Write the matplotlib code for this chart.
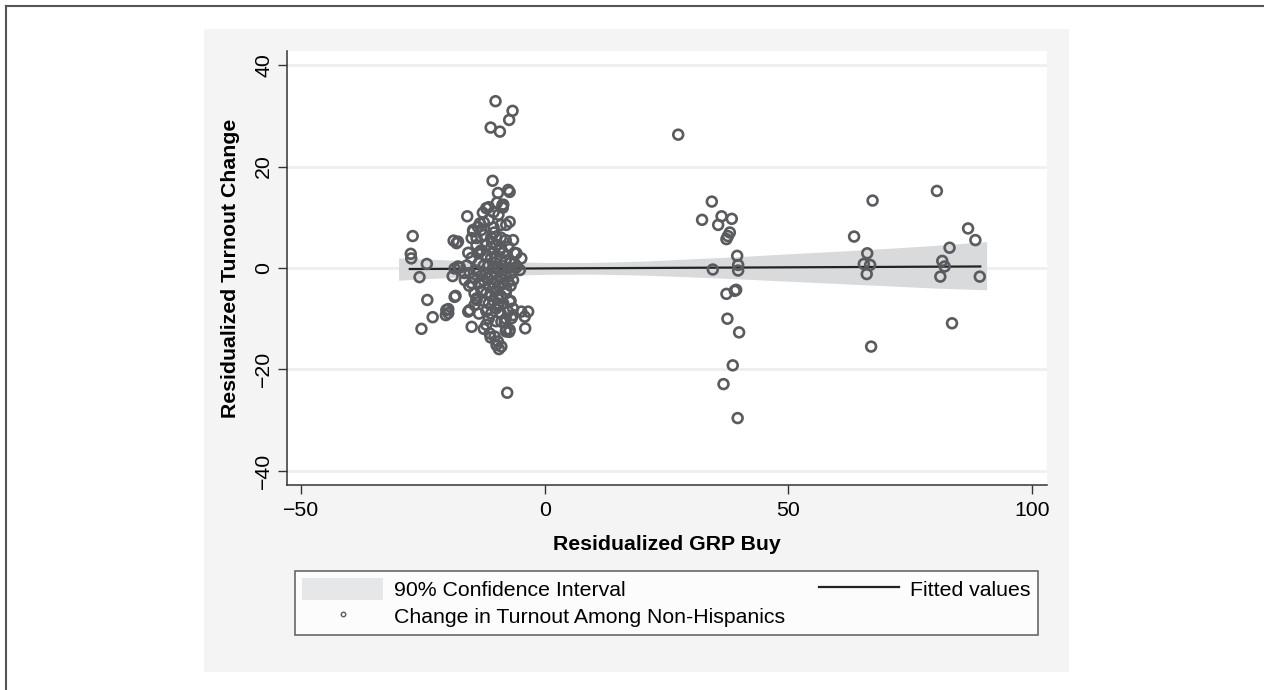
import numpy as np
import matplotlib.pyplot as plt
import matplotlib.patches as mpatches
from matplotlib.lines import Line2D

plt.rcParams['font.family'] = ['Liberation Sans', 'DejaVu Sans']

# scatter: residualized GRP buy vs residualized turnout change
grp_left = [-10.1, -6.6, -7.3, -11.1, -9.2, -10.7, -9.6, -7.5, -7.2, -8.7, -8.6, -9.8,
            -12.0, -12.7, -15.9, -7.2, -7.9, -13.3, -13.7, -14.7, -27.1, -18.7, -17.8,
            -27.5, -15.7, -13.3, -7.5, -6.2, -4.8, -14.7, -15.0, -14.0, -13.7,
            -18.1, -18.5, -17.8, -16.4, -18.5, -20.2, -19.8, -15.0, -15.7,
            -5.8, -6.2, -5.1, -6.8, -7.5, -7.9, -7.2, -7.5, -4.8, -3.4, -4.1, -4.0,
            -7.2, -8.2, -10.3, -9.6, -8.9, -11.3, -12.0,
            -24.2, -25.7, -24.1, -23.0, -25.3, -19.8, -20.3, -18.3, -18.9, -17.4,
            -7.7, -9.4, -9.9, -11.1, -7.9, -7.3, -6.8, -6.5, -8.9,
            -5.7, -6.5, -27.4, -15.4, -15.0, -14.4, -14.0, -14.4, -15.4]
turnout_left = [32.9, 31.0, 29.2, 27.7, 26.9, 17.2, 14.8, 15.4, 15.0, 12.4, 11.9, 12.9,
                11.8, 10.9, 10.2, 9.1, 8.5, 8.8, 8.1, 7.2, 6.3, 5.4, 5.2,
                2.8, 3.0, 3.2, 4.2, 3.0, 1.9, 7.5, 5.9, 5.9, 2.9,
                4.9, -0.1, 0.3, -2.4, -5.7, -8.3, -8.9, -11.6, -8.6,
                2.9, 0.9, -0.4, -1.0, -2.7, -4.3, -6.6, -8.6, -8.6, -8.6, -9.6, -11.9,
                -12.2, -10.6, -13.5, -14.5, -15.5, -12.9, -11.2,
                0.8, -1.8, -6.3, -9.7, -12.0, -8.1, -9.3, -5.5, -1.6, 0.1,
                -24.6, -16.0, -15.2, -13.7, -12.2, -12.6, -9.9, -9.3, -10.6,
                0.3, -2.4, 1.9, -1.0, -3.0, -5.0, -6.3, -7.3, -8.3]

# dense core of the left cluster (estimated, heavily overlapping)
grp_core = [-11.5, -10.5, -9.5, -12.5, -11.0, -10.0, -9.0, -8.0, -12.0, -11.0, -10.0, -9.0,
            -8.5, -13.0, -12.0, -11.0, -10.0, -9.0, -8.0, -7.0, -13.5, -12.5, -11.5, -10.5,
            -9.5, -8.5, -7.5, -14.0, -13.0, -12.0, -11.0, -10.0, -9.0, -8.0, -14.5, -13.5,
            -12.5, -11.5, -10.5, -9.5, -8.5, -7.0, -13.0, -12.0, -11.0, -10.0, -9.0, -8.0,
            -12.5, -11.5, -10.5, -9.5, -8.5, -12.0, -11.0, -10.0, -9.0, -11.5, -10.0, -8.0,
            -13.0, -10.5, -9.0, -11.5, -8.5, -12.5, -14.0, -15.0, -16.0, -16.5, -15.5, -14.0,
            -13.5, -12.5, -10.5, -9.5, -10.8, -8.0, -6.5, -6.0, -7.0, -6.5,
            -10.2, -9.8, -10.6, -9.2, -11.8, -8.8, -10.4, -9.6]
turnout_core = [9.5, 8.0, 10.5, 6.5, 6.0, 6.2, 6.0, 5.5, 4.5, 4.0, 4.5, 4.0,
                3.0, 3.5, 2.5, 2.0, 2.0, 1.5, 1.5, 1.0, 1.0, 0.5, 0.5, 0.0,
                0.0, -0.5, 0.0, -0.5, -1.5, -1.0, -1.5, -1.0, -2.0, -1.5, -2.0, -3.0,
                -2.5, -3.5, -3.0, -3.5, -3.0, -3.5, -4.5, -5.0, -5.5, -4.5, -5.5, -5.0,
                -6.5, -7.0, -6.5, -7.5, -7.0, -8.5, -9.0, -8.0, -9.0, -10.0, -10.5, -10.0,
                7.5, 11.0, 8.5, 12.0, 12.5, 9.0, 4.5, 2.0, 0.5, -1.0, -3.5, -6.0,
                -9.0, -12.0, 3.0, -6.0, 5.0, -12.5, 5.5, 0.0, -6.5, -8.0,
                1.0, -2.5, -4.0, 3.5, -2.0, 0.5, 7.0, -7.0]

grp_right = [27.4, 34.3, 32.3, 36.3, 35.6, 38.4, 38.0, 37.6, 37.3, 39.5, 34.5, 39.7, 39.7,
             37.3, 39.0, 39.3, 37.5, 39.9, 38.6, 36.7, 39.6,
             67.3, 63.5, 66.2, 65.5, 66.8, 66.1, 67.0,
             80.5, 86.9, 88.4, 83.1, 81.6, 82.1, 81.2, 89.3, 83.6]
turnout_right = [26.3, 13.1, 9.5, 10.2, 8.5, 9.7, 7.0, 6.3, 5.7, 2.4, -0.3, 0.6, -0.5,
                 -5.1, -4.5, -4.3, -10.0, -12.7, -19.2, -22.9, -29.6,
                 13.3, 6.2, 2.9, 0.8, 0.6, -1.2, -15.5,
                 15.2, 7.8, 5.5, 4.0, 1.4, 0.3, -1.7, -1.7, -10.9]

# fitted line and 90% CI band
fit_x = [-27.7, 89.4]
fit_y = [-0.2, 0.3]
ci_x = [-30.0, -20.0, -10.0, 0.0, 10.0, 20.0, 30.0, 40.0, 50.0, 60.0, 70.0, 80.0, 90.7]
ci_lo = [-2.4, -1.9, -1.5, -1.25, -1.2, -1.4, -1.75, -2.15, -2.6, -3.05, -3.5, -3.95, -4.3]
ci_hi = [2.0, 1.6, 1.25, 1.1, 1.1, 1.35, 1.8, 2.25, 2.8, 3.3, 3.85, 4.45, 5.2]

xticks = [-50, 0, 50, 100]
yticks = [-40, -20, 0, 20, 40]

grp = grp_left + grp_core + grp_right
turnout = turnout_left + turnout_core + turnout_right

fs = 15.3
fig = plt.figure(figsize=(12.64, 6.9), dpi=100)

# outer frame (top + left) and grey graph region
fig.add_artist(Line2D([6/1264, 6/1264], [0, 1 - 6/690], color='#555555', lw=1.5))
fig.add_artist(Line2D([6/1264, 1], [1 - 6/690, 1 - 6/690], color='#555555', lw=1.5))
fig.add_artist(mpatches.Rectangle((204/1264, 1 - 672/690), 865/1264, 643/690,
                                  color='#f4f4f4', lw=0, zorder=0))

ax = fig.add_axes([287/1264, 1 - 485/690, 760/1264, 434/690])
ax.set_facecolor('white')

ax.fill_between(ci_x, ci_lo, ci_hi, color='#d9dadc', lw=0, zorder=1)
ax.plot(fit_x, fit_y, color='#222222', lw=1.6, zorder=2)
ax.scatter(grp, turnout, s=50, facecolors='none', edgecolors='#5a5b5e',
           linewidths=1.9, zorder=3)

ax.set_xlim(-52.9, 103.1)
ax.set_ylim(-42.8, 42.8)
ax.set_xticks(xticks)
ax.set_yticks(yticks)
ax.grid(axis='y', color='#efefef', lw=2.0, zorder=0)
ax.set_axisbelow(True)
for s in ['top', 'right']:
    ax.spines[s].set_visible(False)
for s in ['left', 'bottom']:
    ax.spines[s].set_color('#333333')
    ax.spines[s].set_linewidth(1.1)
ax.tick_params(length=6.5, width=1.0, color='#333333', labelsize=fs)
ax.tick_params(axis='x', pad=5)
ax.tick_params(axis='y', pad=3.5, labelrotation=90)
for lab in ax.get_yticklabels():
    lab.set_va('center')

ax.set_xlabel('Residualized GRP Buy', fontsize=fs, fontweight='bold', labelpad=11)
ax.set_ylabel('Residualized Turnout Change', fontsize=fs, fontweight='bold', labelpad=10)

h_ci = mpatches.Patch(color='#e6e7e9', lw=0)
h_pts = Line2D([], [], ls='none', marker='o', markersize=3.2, markerfacecolor='none',
               markeredgecolor='#5a5b5e', markeredgewidth=1.0)
h_fit = Line2D([], [], color='#222222', lw=1.6)
fig.legend([h_ci, h_pts, h_fit],
           ['90% Confidence Interval', 'Change in Turnout Among Non-Hispanics', 'Fitted values'],
           ncol=2, mode='expand', loc='upper left',
           bbox_to_anchor=(295/1264, 1 - 642/690, 743/1264, 71/690),
           fontsize=fs, frameon=True, fancybox=False, edgecolor='#444444',
           handlelength=3.8, handleheight=1.15, handletextpad=0.5,
           borderpad=0.35, labelspacing=0.25, borderaxespad=0)
fig.legends[0].get_frame().set_linewidth(1.2)

plt.savefig('out.png', dpi=100)
